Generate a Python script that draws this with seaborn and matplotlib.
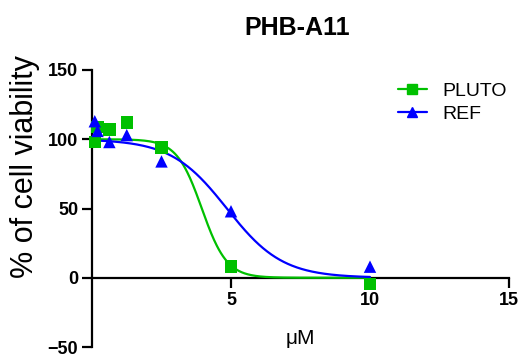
import numpy as np
import pandas as pd
import matplotlib
matplotlib.use("Agg")
import matplotlib.pyplot as plt
from matplotlib.lines import Line2D
import seaborn as sns

# concentrations (uM) and viability (%)
conc = [0.1, 0.2, 0.625, 1.25, 2.5, 5, 10]
pluto_vals = [98, 109, 107, 112, 94, 8, -4.5]
ref_vals = [113, 106, 98, 103, 84, 48, 8]

# fitted curve parameters (logistic on linear x)
pluto_fit = dict(top=100, bottom=0, x50=3.95, scale=0.45)
ref_fit = dict(top=100, bottom=0, x50=4.85, scale=1.0)

GREEN = "#00c000"
BLUE = "#0000ff"


def fit_curve(x, top, bottom, x50, scale):
    return bottom + (top - bottom) / (1 + np.exp((x - x50) / scale))


sns.set_style("ticks")
plt.rcParams["font.family"] = ["Liberation Sans", "DejaVu Sans"]
plt.rcParams["text.color"] = "black"
plt.rcParams["axes.labelcolor"] = "black"

fig = plt.figure(figsize=(5.28, 3.61), dpi=100)
ax = fig.add_axes([92 / 528, 1 - 347 / 361, 417 / 528, 277 / 361])

xs = np.linspace(0.1, 10, 400)
curves = pd.DataFrame({
    "x": np.concatenate([xs, xs]),
    "y": np.concatenate([fit_curve(xs, **pluto_fit), fit_curve(xs, **ref_fit)]),
    "group": ["PLUTO"] * len(xs) + ["REF"] * len(xs),
})
points = pd.DataFrame({
    "x": conc + conc,
    "y": pluto_vals + ref_vals,
    "group": ["PLUTO"] * len(conc) + ["REF"] * len(conc),
})
pal = {"PLUTO": GREEN, "REF": BLUE}

sns.lineplot(data=curves, x="x", y="y", hue="group", palette=pal, linewidth=1.6,
             legend=False, ax=ax, zorder=5, clip_on=False)
sns.scatterplot(data=points, x="x", y="y", hue="group", style="group",
                markers={"PLUTO": "s", "REF": "^"}, palette=pal, s=80,
                linewidth=0, legend=False, ax=ax, zorder=6, clip_on=False)

ax.set_xlim(0, 15)
ax.set_ylim(-50, 150)
ax.set_xticks([5, 10, 15])
ax.set_yticks([-50, 0, 50, 100, 150])
ax.spines["bottom"].set_position(("data", 0))
ax.spines["top"].set_visible(False)
ax.spines["right"].set_visible(False)
for side in ["left", "bottom"]:
    ax.spines[side].set_linewidth(1.6)
    ax.spines[side].set_color("black")
ax.tick_params(axis="both", length=7, width=1.6, direction="out", colors="black",
               labelsize=13, pad=3)
for lbl in ax.get_xticklabels() + ax.get_yticklabels():
    lbl.set_fontweight("bold")

ax.set_xlabel("μM", fontsize=15)
ax.xaxis.set_label_coords(0.5, 0.065)
ax.set_ylabel("% of cell viability", fontsize=22)
ax.yaxis.set_label_coords(-0.125, 0.65)

fig.text(297 / 528, 1 - 28 / 361, "PHB-A11", fontsize=18, fontweight="bold",
         ha="center", va="center")

handles = [
    Line2D([], [], color=GREEN, marker="s", markersize=7, linewidth=1.6, label="PLUTO"),
    Line2D([], [], color=BLUE, marker="^", markersize=7, linewidth=1.6, label="REF"),
]
ax.legend(handles=handles, loc="upper left", bbox_to_anchor=(0.735, 0.80),
          bbox_transform=fig.transFigure, frameon=False, fontsize=14,
          handlelength=1.5, handletextpad=0.8, labelspacing=0.3, borderpad=0)

fig.savefig("out.png", dpi=100)
